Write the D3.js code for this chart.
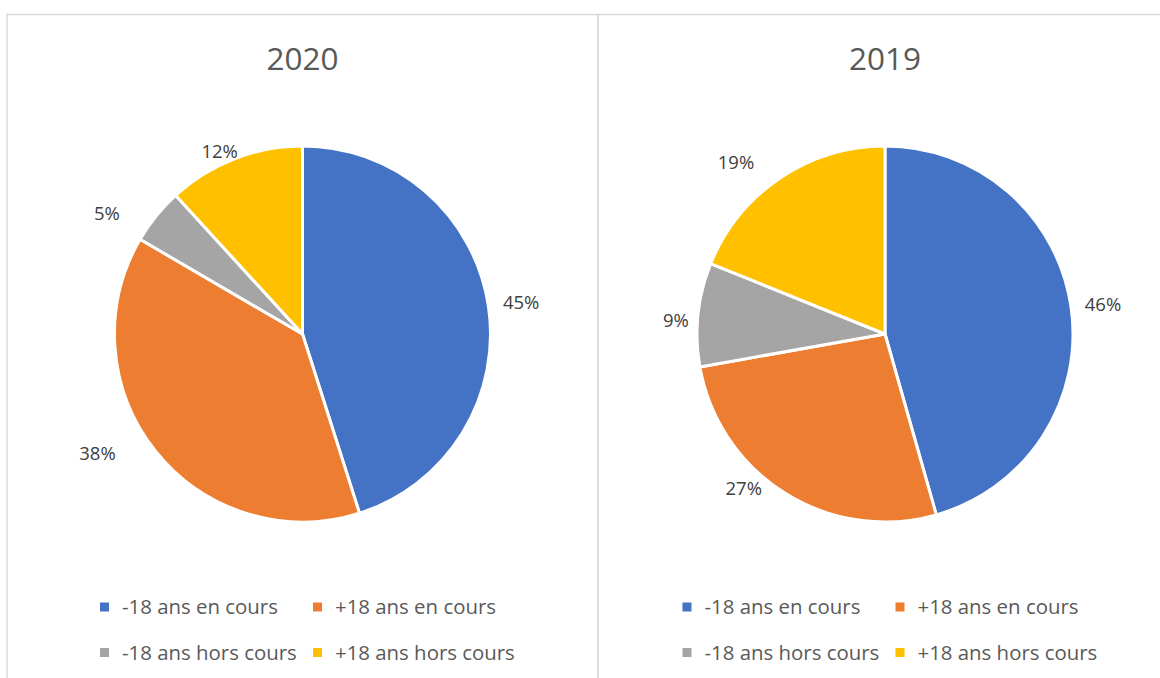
<!DOCTYPE html>
<html>
<head>
<meta charset="utf-8">
<script src="https://cdn.jsdelivr.net/npm/d3@7/dist/d3.min.js"></script>
<style>
  html, body { margin: 0; padding: 0; background: #fff; }
  svg { display: block; font-family: "Open Sans", Lato, sans-serif; }
</style>
</head>
<body>
<svg id="chart" width="1160" height="678"></svg>
<script>
// ---- data ----
const categories = ["-18 ans en cours", "+18 ans en cours", "-18 ans hors cours", "+18 ans hors cours"];
const years = ["2020", "2019"];
const values2020 = [45.1, 38.3, 4.8, 11.8];
const values2019 = [45.6, 26.6, 8.9, 18.9];
const colors = ["#4472C4", "#ED7D31", "#A5A5A5", "#FFC000"];

// ---- layout ----
const W = 1160, H = 678;
const panels = [
  { x: 7, w: 591, cx: 302.5, year: years[0], values: values2020,
    labelNudge: [0.5, 8.6, -7.1, -3.1], labelDist: [221, 237, 230, 201] },
  { x: 598, w: 600, cx: 885, year: years[1], values: values2019,
    labelNudge: [0.2, 10.5, -2.1, -7.0], labelDist: [220, 209, 209.5, 227] }
];
const cy = 334, R = 188;
const textColor = "#595959";

const svg = d3.select("#chart");
const pie = d3.pie().sort(null).value(d => d);
const arc = d3.arc().innerRadius(0).outerRadius(R);
const pct = d3.format(".0%");
const color = d3.scaleOrdinal().domain(categories).range(colors);

panels.forEach(p => {
  const g = svg.append("g");
  g.append("rect")
    .attr("x", p.x).attr("y", 14.5)
    .attr("width", p.w).attr("height", H + 20)
    .attr("fill", "none").attr("stroke", "#d9d9d9").attr("stroke-width", 1.5);

  g.append("text")
    .attr("x", p.cx).attr("y", 70)
    .attr("text-anchor", "middle")
    .attr("fill", textColor)
    .style("font-size", "31.5px")
    .text(p.year);

  const total = d3.sum(p.values);
  const arcs = pie(p.values);
  const pg = g.append("g").attr("transform", `translate(${p.cx},${cy})`);
  pg.selectAll("path").data(arcs).join("path")
    .attr("d", arc)
    .attr("fill", (d, i) => color(categories[i]))
    .attr("stroke", "#fff").attr("stroke-width", 3)
    .attr("stroke-linejoin", "round");

  pg.selectAll("text.lbl").data(arcs).join("text")
    .attr("class", "lbl")
    .attr("transform", (d, i) => {
      const a = (d.startAngle + d.endAngle) / 2 + p.labelNudge[i] * Math.PI / 180;
      const r = p.labelDist[i];
      return `translate(${r * Math.sin(a)},${-r * Math.cos(a)})`;
    })
    .attr("text-anchor", "middle")
    .attr("dy", "0.36em")
    .attr("fill", "#404040")
    .style("font-size", "18.5px")
    .text(d => pct(d.value / total));

  // legend
  const lg = g.append("g");
  categories.forEach((c, i) => {
    const col = i % 2, row = Math.floor(i / 2);
    const lx = p.cx - 202.5 + col * 213;
    const ly = 607 + row * 45.5;
    lg.append("rect")
      .attr("x", lx).attr("y", ly - 4.5)
      .attr("width", 9).attr("height", 9)
      .attr("fill", color(c));
    lg.append("text")
      .attr("x", lx + 22).attr("y", ly + 7)
      .attr("fill", textColor)
      .style("font-size", "20.4px")
      .text(c);
  });
});
</script>
</body>
</html>
